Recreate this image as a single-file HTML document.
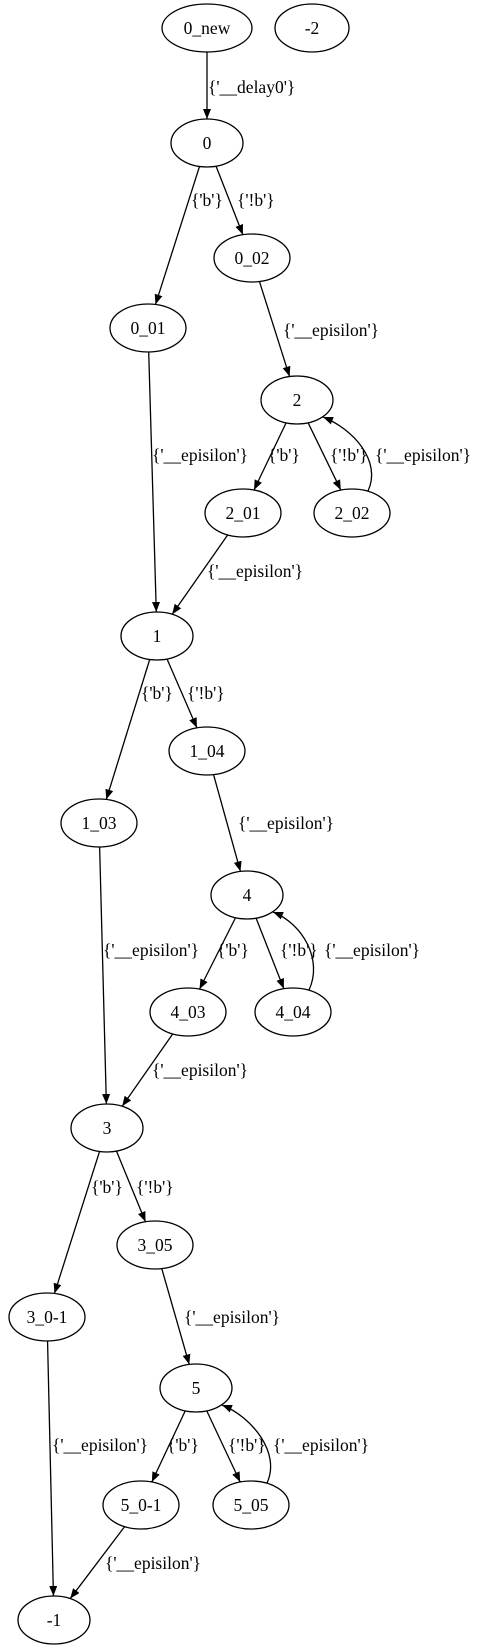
<!DOCTYPE html>
<html><head><meta charset="utf-8"><style>
body{margin:0;background:#fff;}
svg{display:block;}
text{font-family:"Liberation Serif",serif;font-size:17.5px;fill:#000;}
</style></head><body>
<svg id="g" width="479" height="1651" viewBox="0 0 479 1651">
<defs><marker id="ah" markerWidth="10" markerHeight="8" refX="10" refY="4" orient="auto" markerUnits="userSpaceOnUse"><path d="M0,0 L10,4 L0,8 Z" fill="#000"/></marker></defs>
</svg>
<script>
const nodeIds=["0_new","-2","0","0_02","0_01","2","2_01","2_02","1","1_04","1_03","4","4_03","4_04","3","3_05","3_0-1","5","5_0-1","5_05","-1"];
const nodeX=[207,312,207,252,148,297,243,352,157,207,99,247,188,293,107,155,47,196,141,251,54];
const nodeY=[28,28,143,258,328,400,513,513,636,751,823,895,1012,1012,1128,1245,1317,1388,1505,1505,1620];
const nodeRx=[45,37,36,38,38,36,38,38,36,38,38,36,38,38,36,38,38,36,38,38,36];
const edgeFrom=["0_new","0","0","0_02","0_01","2","2","2_02","2_01","1","1","1_04","1_03","4","4","4_04","4_03","3","3","3_05","3_0-1","5","5","5_05","5_0-1"];
const edgeTo=["0","0_01","0_02","2","1","2_01","2_02","2","1","1_03","1_04","4","3","4_03","4_04","4","3","3_0-1","3_05","5","-1","5_0-1","5_05","5","-1"];
const edgeLabel=["{'__delay0'}","{'b'}","{'!b'}","{'__episilon'}","{'__episilon'}","{'b'}","{'!b'}","{'__episilon'}","{'__episilon'}","{'b'}","{'!b'}","{'__episilon'}","{'__episilon'}","{'b'}","{'!b'}","{'__episilon'}","{'__episilon'}","{'b'}","{'!b'}","{'__episilon'}","{'__episilon'}","{'b'}","{'!b'}","{'__episilon'}","{'__episilon'}"];
const labelX=[208,191,237,283,152,268,330,375,207,141,187,238,103,217,280,324,152,91,136,184,52,167,228,273,105];
const labelY=[87,200,200,330,455,455,455,455,571,693,693,823,950,950,950,950,1070,1187,1187,1317,1445,1445,1445,1445,1563];
const RY=24;
const svg=document.getElementById('g');
const NS='http://www.w3.org/2000/svg';
function idx(id){return nodeIds.indexOf(id);}
function bpt(i,dx,dy){const rx=nodeRx[i];const t=1/Math.sqrt((dx*dx)/(rx*rx)+(dy*dy)/(RY*RY));return [nodeX[i]+dx*t,nodeY[i]+dy*t];}
for(let e=0;e<edgeFrom.length;e++){
  const a=idx(edgeFrom[e]),b=idx(edgeTo[e]);
  const p=document.createElementNS(NS,'path');
  let d;
  if(nodeY[b]<nodeY[a]){
    const sx=nodeX[a]+16,sy=nodeY[a]-RY+2;
    const ex=nodeX[b]+26,ey=nodeY[b]+17;
    d=`M${sx},${sy} C${sx+14},${sy-30} ${ex+30},${ey+12} ${ex},${ey}`;
  } else {
    const dx=nodeX[b]-nodeX[a],dy=nodeY[b]-nodeY[a];
    const s=bpt(a,dx,dy),t=bpt(b,-dx,-dy);
    d=`M${s[0]},${s[1]} L${t[0]},${t[1]}`;
  }
  p.setAttribute('d',d);
  p.setAttribute('fill','none');p.setAttribute('stroke','#000');p.setAttribute('stroke-width','1.3');
  p.setAttribute('marker-end','url(#ah)');
  
  
  svg.appendChild(p);
  const tx=document.createElementNS(NS,'text');
  tx.setAttribute('x',labelX[e]);tx.setAttribute('y',labelY[e]+6);
  tx.textContent=edgeLabel[e];
  
  
  svg.appendChild(tx);
}
for(let i=0;i<nodeIds.length;i++){
  const el=document.createElementNS(NS,'ellipse');
  el.setAttribute('cx',nodeX[i]);el.setAttribute('cy',nodeY[i]);el.setAttribute('rx',nodeRx[i]);el.setAttribute('ry',RY);
  el.setAttribute('fill','none');el.setAttribute('stroke','#000');el.setAttribute('stroke-width','1.3');
  
  
  svg.appendChild(el);
  const t=document.createElementNS(NS,'text');
  t.setAttribute('x',nodeX[i]);t.setAttribute('y',nodeY[i]+6);t.setAttribute('text-anchor','middle');
  t.textContent=nodeIds[i];
  
  
  svg.appendChild(t);
}
</script>
</body></html>
